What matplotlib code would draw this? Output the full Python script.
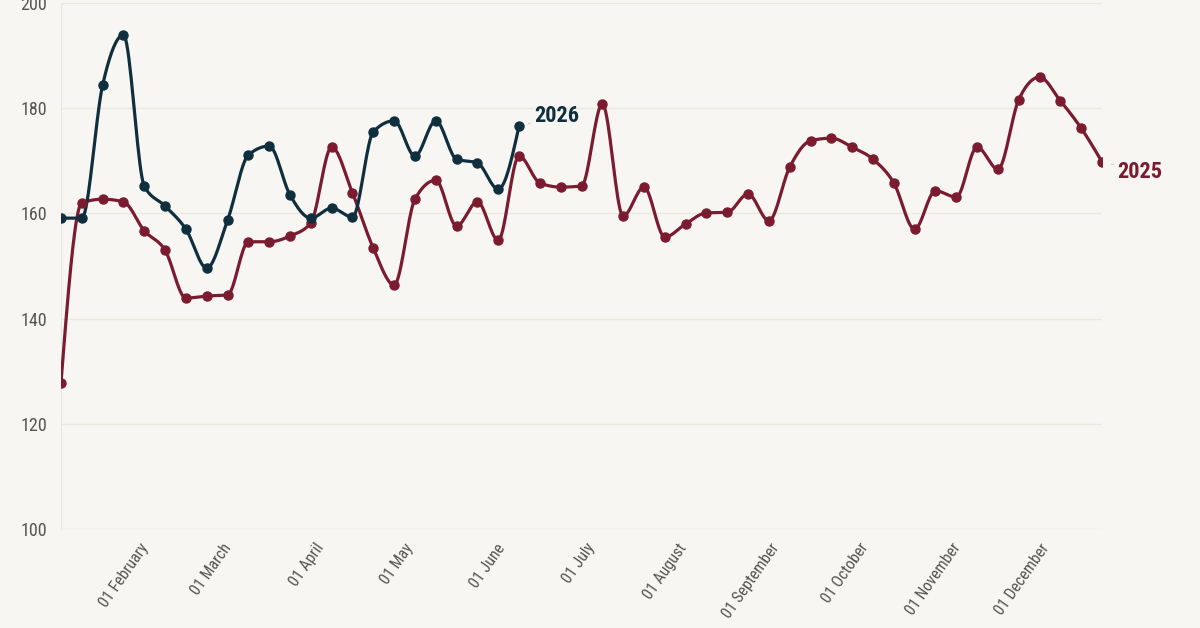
import matplotlib
matplotlib.use("Agg")
import matplotlib.pyplot as plt
import matplotlib.dates as mdates
import matplotlib.transforms as mtransforms
import numpy as np
import pandas as pd

# weekly values
values_2025 = [127.8, 162.0, 162.7, 162.2, 156.7, 153.0, 143.9, 144.3, 144.5, 154.6,
               154.6, 155.7, 158.2, 172.6, 163.9, 153.4, 146.4, 162.7, 166.3, 157.6,
               162.2, 154.9, 170.9, 165.8, 165.0, 165.2, 180.8, 159.5, 165.0, 155.5,
               158.0, 160.1, 160.2, 163.7, 158.6, 168.8, 173.8, 174.3, 172.6, 170.3,
               165.8, 157.0, 164.3, 163.1, 172.6, 168.4, 181.6, 185.9, 181.4, 176.2,
               169.8]
values_2026 = [159.1, 159.1, 184.4, 193.9, 165.2, 161.4, 157.0, 149.6, 158.7, 171.1,
               172.8, 163.5, 159.1, 161.0, 159.3, 175.5, 177.6, 170.9, 177.6, 170.3,
               169.6, 164.6, 176.6]
series_names = ["2025", "2026"]
y_ticks = [100, 120, 140, 160, 180, 200]
month_labels = ["01 February", "01 March", "01 April", "01 May", "01 June", "01 July",
                "01 August", "01 September", "01 October", "01 November", "01 December"]

# both years are drawn on one shared calendar
dates_2025 = pd.date_range("2025-01-03", periods=len(values_2025), freq="7D")
dates_2026 = pd.date_range("2025-01-03", periods=len(values_2026), freq="7D")
month_ticks = pd.date_range("2025-02-01", periods=len(month_labels), freq="MS")

RED = "#7b1b30"
NAVY = "#0f2f3f"
BG = "#f8f6f2"


# monotone cubic interpolation (like d3.curveMonotoneX)
def monotone_curve(x, y, n=20):
    x = np.asarray(x, dtype=float)
    y = np.asarray(y, dtype=float)
    h = np.diff(x)
    s = np.diff(y) / h
    m = np.zeros(len(x))
    for i in range(1, len(x) - 1):
        p = (s[i - 1] * h[i] + s[i] * h[i - 1]) / (h[i - 1] + h[i])
        m[i] = (np.sign(s[i - 1]) + np.sign(s[i])) * min(abs(s[i - 1]), abs(s[i]), 0.5 * abs(p))
    m[0] = (3 * s[0] - m[1]) / 2
    m[-1] = (3 * s[-1] - m[-2]) / 2
    xs, ys = [], []
    for i in range(len(x) - 1):
        t = np.linspace(0, 1, n)
        h00 = 2 * t**3 - 3 * t**2 + 1
        h10 = t**3 - 2 * t**2 + t
        h01 = -2 * t**3 + 3 * t**2
        h11 = t**3 - t**2
        xs.extend(x[i] + t * h[i])
        ys.extend(h00 * y[i] + h10 * h[i] * m[i] + h01 * y[i + 1] + h11 * h[i] * m[i + 1])
    return np.array(xs), np.array(ys)


plt.rcParams["font.family"] = ["Roboto Condensed", "Roboto", "DejaVu Sans"]

fig = plt.figure(figsize=(12, 6.28), dpi=100, facecolor=BG)
ax = fig.add_axes([61 / 1200, 1 - 529 / 628, (1102 - 61) / 1200, (529 - 3) / 628])
ax.set_facecolor(BG)

for dates, vals, color in [(dates_2025, values_2025, RED), (dates_2026, values_2026, NAVY)]:
    xn = mdates.date2num(dates)
    cx, cy = monotone_curve(xn, vals)
    ax.plot(cx, cy, color=color, lw=2.3, solid_capstyle="round", zorder=3)
    ax.plot(xn, vals, "o", color=color, ms=6.5, zorder=4)

# end labels
ax.annotate(series_names[1], (mdates.date2num(dates_2026[-1]), values_2026[-1]),
            xytext=(11, 7), textcoords="offset points", color=NAVY, fontsize=16,
            fontweight="bold", va="center", ha="left",
            arrowprops=dict(arrowstyle="-", color="#c8c8c8", lw=0.8, shrinkA=1, shrinkB=7))
ax.annotate(series_names[0], (mdates.date2num(dates_2025[-1]), values_2025[-1]),
            xytext=(11, -7), textcoords="offset points", color=RED, fontsize=16,
            fontweight="bold", va="center", ha="left",
            arrowprops=dict(arrowstyle="-", color="#c8c8c8", lw=0.8, shrinkA=1, shrinkB=7))

ax.set_xlim(mdates.date2num(dates_2025[0]), mdates.date2num(dates_2025[-1]))
ax.set_ylim(100, 200)
ax.set_yticks(y_ticks)
ax.set_yticklabels([str(v) for v in y_ticks])
ax.set_xticks(mdates.date2num(month_ticks))
ax.set_xticklabels([])

# month labels: slanted, the end of the text sits under the tick
label_trans = ax.get_xaxis_transform() + mtransforms.ScaledTranslation(
    -2 / 100, -16 / 100, fig.dpi_scale_trans)
for d, lbl in zip(mdates.date2num(month_ticks), month_labels):
    ax.text(d, 0, lbl, transform=label_trans, rotation=55, rotation_mode="anchor",
            ha="right", va="center", fontsize=11.5, color="#555555")

ax.grid(axis="y", color="#ebe8e2", lw=1)
ax.set_axisbelow(True)
for side in ["top", "right", "bottom"]:
    ax.spines[side].set_visible(False)
ax.spines["left"].set_color("#ebe8e2")
ax.tick_params(axis="y", length=0, pad=10, labelsize=13, labelcolor="#555555")
ax.tick_params(axis="x", length=0)

fig.savefig("out.png", dpi=100, facecolor=BG)
